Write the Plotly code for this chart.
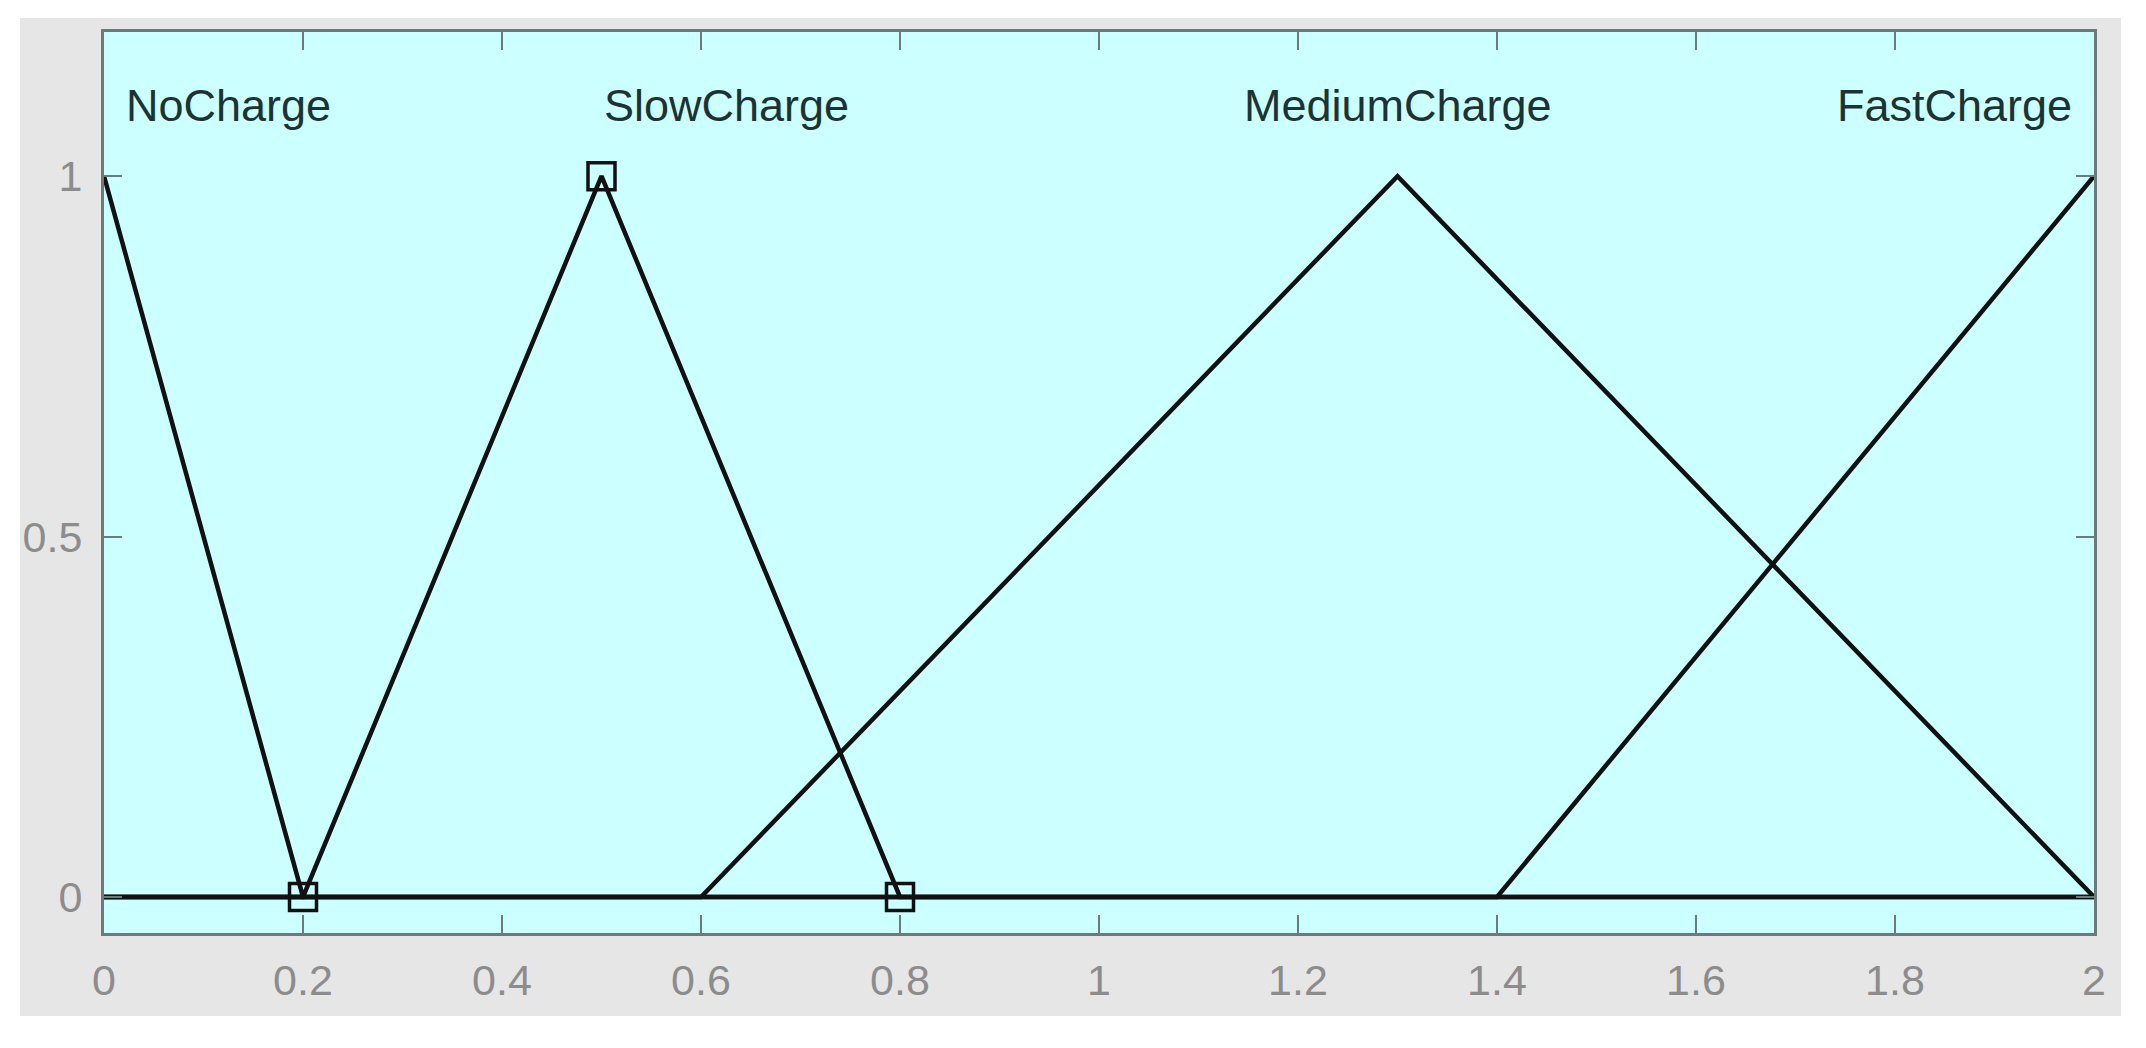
import plotly.graph_objects as go

# Membership functions (triangular / shoulder), x universe 0..2
mf_names = ["NoCharge", "SlowCharge", "MediumCharge", "FastCharge"]
nocharge_x = [0, 0.2, 2]
nocharge_y = [1, 0, 0]
slow_x = [0, 0.2, 0.5, 0.8, 2]
slow_y = [0, 0, 1, 0, 0]
medium_x = [0, 0.6, 1.3, 2]
medium_y = [0, 0, 1, 0]
fast_x = [0, 1.4, 2]
fast_y = [0, 0, 1]
# selected MF vertices (square markers)
sel_x = [0.2, 0.5, 0.8]
sel_y = [0, 1, 0]
# label positions
label_x = [0.02, 0.5, 1.3, 1.98]
label_y = [1.098, 1.098, 1.098, 1.098]
label_anchor = ["left", "left", "center", "right"]
x_ticks = [0, 0.2, 0.4, 0.6, 0.8, 1, 1.2, 1.4, 1.6, 1.8, 2]
x_ticktext = ["0", "0.2", "0.4", "0.6", "0.8", "1", "1.2", "1.4", "1.6", "1.8", "2"]
y_ticks = [0, 0.5, 1]
y_ticktext = ["0", "0.5", "1"]

FONT = "Liberation Sans, Arial, sans-serif"
line_style = dict(color="#111111", width=4.5)

fig = go.Figure()
for xs, ys in [(nocharge_x, nocharge_y), (slow_x, slow_y), (medium_x, medium_y), (fast_x, fast_y)]:
    fig.add_trace(go.Scatter(x=xs, y=ys, mode="lines", line=line_style,
                             showlegend=False, hoverinfo="skip"))
fig.add_trace(go.Scatter(x=sel_x, y=sel_y, mode="markers",
                         marker=dict(symbol="square-open", size=27,
                                     line=dict(color="#111111", width=3.5), color="#111111"),
                         showlegend=False, hoverinfo="skip", cliponaxis=False))

for name, lx, ly, anc in zip(mf_names, label_x, label_y, label_anchor):
    fig.add_annotation(x=lx, y=ly, text=name, showarrow=False, xanchor=anc,
                       yanchor="middle",
                       font=dict(family=FONT, size=45, color="#1c3333"))

# grey figure background panel (MATLAB-style), then cyan axes background
fig.add_shape(type="rect", xref="paper", yref="paper",
              x0=-0.0422, x1=1.0136, y0=-0.0921, y1=1.0155,
              fillcolor="#e6e6e6", line=dict(width=0), layer="below")
fig.add_shape(type="rect", xref="x domain", yref="y domain",
              x0=0, x1=1, y0=0, y1=1,
              fillcolor="#ccffff", line=dict(width=0), layer="below")

axis_common = dict(showline=True, mirror="allticks", linecolor="#6b7b7b", linewidth=3,
                   ticks="inside", ticklen=18, tickwidth=2, tickcolor="#6b7b7b",
                   showgrid=False, zeroline=False,
                   tickfont=dict(family=FONT, size=43, color="#8c8c8c"))

fig.update_xaxes(range=[0, 2], tickvals=x_ticks, ticktext=x_ticktext,
                 ticklabelstandoff=7, **axis_common)
fig.update_yaxes(range=[-0.05, 1.2], tickvals=y_ticks, ticktext=y_ticktext,
                 ticklabelstandoff=10, **axis_common)

fig.update_layout(width=2146, height=1048,
                  margin=dict(l=96, r=60, t=24, b=123),
                  paper_bgcolor="white", plot_bgcolor="#ccffff",
                  showlegend=False)

fig.write_html("out.html")
